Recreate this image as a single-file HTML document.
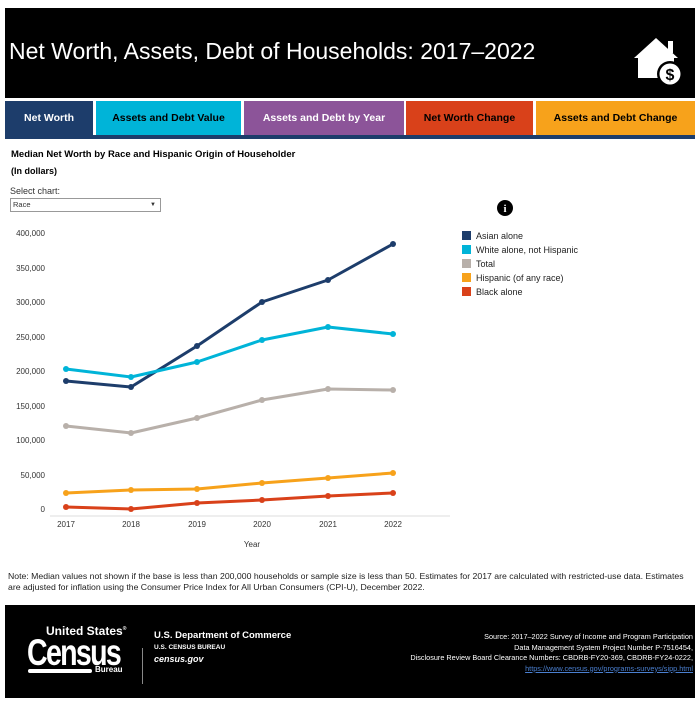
<!DOCTYPE html>
<html><head><meta charset="utf-8"><style>
body{margin:0;width:700px;height:701px;background:#fff;font-family:"Liberation Sans",sans-serif;position:relative;overflow:hidden}
.a{position:absolute}
.hdr{left:5px;top:8px;width:690px;height:90px;background:#000}
.tab{top:101px;height:34px;font-weight:bold;font-size:10.5px;display:flex;align-items:center;justify-content:center;color:#000}
</style></head><body>
<div class="a hdr"></div>
<div class="a" style="left:9px;top:38px;color:#fff;font-size:23px">Net Worth, Assets, Debt of Households: 2017–2022</div>
<svg class="a" style="left:630px;top:34px" width="56" height="54" viewBox="0 0 56 54">
<path d="M4 24 L26 4 L48 24 L44 24 L44 44 L8 44 L8 24 Z" fill="#fff"/><rect x="38" y="7" width="5" height="12" fill="#fff"/>
<circle cx="40" cy="40" r="13" fill="#000"/><circle cx="40" cy="40" r="10.5" fill="#fff"/>
<text x="40" y="46" font-size="16" font-weight="bold" text-anchor="middle" fill="#000" font-family="Liberation Sans">$</text></svg>
<div class="a tab" style="left:5px;width:88px;background:#1d3d6b;color:#fff">Net Worth</div>
<div class="a tab" style="left:96px;width:145px;background:#00b4d8">Assets and Debt Value</div>
<div class="a tab" style="left:244px;width:160px;background:#8c5499;color:#fff">Assets and Debt by Year</div>
<div class="a tab" style="left:406px;width:127px;background:#d9411a">Net Worth Change</div>
<div class="a tab" style="left:536px;width:159px;background:#f7a21b">Assets and Debt Change</div>
<div class="a" style="left:5px;top:135px;width:690px;height:4px;background:#1d3d6b"></div>
<div class="a" style="left:11px;top:149px;font-size:9.5px;font-weight:bold">Median Net Worth by Race and Hispanic Origin of Householder</div>
<div class="a" style="left:11px;top:166px;font-size:9px;font-weight:bold">(In dollars)</div>
<div class="a" style="left:10px;top:186px;font-size:9px;color:#333">Select chart:</div>
<div class="a" style="left:10px;top:198px;width:149px;height:12px;border:1px solid #999;font-size:7.5px;line-height:12px;color:#333"><span style="margin-left:2px">Race</span><span style="position:absolute;right:4px;font-size:6px">▼</span></div>
<svg class="a" style="left:0;top:0" width="700" height="701">
<circle cx="505" cy="208" r="8" fill="#000"/><text x="505" y="212" font-size="11" font-weight="bold" fill="#fff" text-anchor="middle" font-family="Liberation Serif">i</text>
<g font-size="8" fill="#333" font-family="Liberation Sans" text-anchor="end">
<text x="45" y="236">400,000</text><text x="45" y="271">350,000</text><text x="45" y="305">300,000</text><text x="45" y="340">250,000</text><text x="45" y="374">200,000</text><text x="45" y="409">150,000</text><text x="45" y="443">100,000</text><text x="45" y="478">50,000</text><text x="45" y="512">0</text></g>
<line x1="50" y1="516" x2="450" y2="516" stroke="#ddd"/>
<g font-size="8" fill="#333" font-family="Liberation Sans" text-anchor="middle">
<text x="66" y="527">2017</text><text x="131" y="527">2018</text><text x="197" y="527">2019</text><text x="262" y="527">2020</text><text x="328" y="527">2021</text><text x="393" y="527">2022</text><text x="252" y="547">Year</text></g>
<g fill="none" stroke-width="3" stroke-linejoin="round">
<polyline stroke="#1d3d6b" points="66,381 131,387 197,346 262,302 328,280 393,244"/>
<polyline stroke="#00b4d8" points="66,369 131,377 197,362 262,340 328,327 393,334"/>
<polyline stroke="#b8b0aa" points="66,426 131,433 197,418 262,400 328,389 393,390"/>
<polyline stroke="#f7a21b" points="66,493 131,490 197,489 262,483 328,478 393,473"/>
<polyline stroke="#d9411a" points="66,507 131,509 197,503 262,500 328,496 393,493"/>
</g>
<g>
<g fill="#1d3d6b"><circle cx="66" cy="381" r="3"/><circle cx="131" cy="387" r="3"/><circle cx="197" cy="346" r="3"/><circle cx="262" cy="302" r="3"/><circle cx="328" cy="280" r="3"/><circle cx="393" cy="244" r="3"/></g>
<g fill="#00b4d8"><circle cx="66" cy="369" r="3"/><circle cx="131" cy="377" r="3"/><circle cx="197" cy="362" r="3"/><circle cx="262" cy="340" r="3"/><circle cx="328" cy="327" r="3"/><circle cx="393" cy="334" r="3"/></g>
<g fill="#b8b0aa"><circle cx="66" cy="426" r="3"/><circle cx="131" cy="433" r="3"/><circle cx="197" cy="418" r="3"/><circle cx="262" cy="400" r="3"/><circle cx="328" cy="389" r="3"/><circle cx="393" cy="390" r="3"/></g>
<g fill="#f7a21b"><circle cx="66" cy="493" r="3"/><circle cx="131" cy="490" r="3"/><circle cx="197" cy="489" r="3"/><circle cx="262" cy="483" r="3"/><circle cx="328" cy="478" r="3"/><circle cx="393" cy="473" r="3"/></g>
<g fill="#d9411a"><circle cx="66" cy="507" r="3"/><circle cx="131" cy="509" r="3"/><circle cx="197" cy="503" r="3"/><circle cx="262" cy="500" r="3"/><circle cx="328" cy="496" r="3"/><circle cx="393" cy="493" r="3"/></g>
</g>
<g font-size="9" fill="#222" font-family="Liberation Sans">
<rect x="462" y="231" width="9" height="9" fill="#1d3d6b"/><text x="476" y="239">Asian alone</text>
<rect x="462" y="245" width="9" height="9" fill="#00b4d8"/><text x="476" y="253">White alone, not Hispanic</text>
<rect x="462" y="259" width="9" height="9" fill="#b8b0aa"/><text x="476" y="267">Total</text>
<rect x="462" y="273" width="9" height="9" fill="#f7a21b"/><text x="476" y="281">Hispanic (of any race)</text>
<rect x="462" y="287" width="9" height="9" fill="#d9411a"/><text x="476" y="295">Black alone</text>
</g>
</svg>
<div class="a" style="left:8px;top:571px;font-size:8.7px;line-height:11px;color:#222;white-space:nowrap">Note: Median values not shown if the base is less than 200,000 households or sample size is less than 50. Estimates for 2017 are calculated with restricted-use data. Estimates<br>are adjusted for inflation using the Consumer Price Index for All Urban Consumers (CPI-U), December 2022.</div>
<div class="a" style="left:5px;top:605px;width:690px;height:93px;background:#000"></div>
<div class="a" style="left:46px;top:624px;color:#fff;font-size:12px;font-weight:bold">United States<sup style="font-size:5px">®</sup></div>
<div class="a" style="left:27px;top:634px;color:#fff;font-size:34px;line-height:34px;font-weight:bold;letter-spacing:-2px;transform:scale(0.84,1.1);transform-origin:left top">Census</div>
<div class="a" style="left:28px;top:669px;width:64px;height:4px;background:#fff;border-radius:2px"></div>
<div class="a" style="left:95px;top:665px;color:#fff;font-size:8px;font-weight:bold">Bureau</div>
<div class="a" style="left:142px;top:648px;width:1px;height:36px;background:#888"></div>
<div class="a" style="left:154px;top:630px;color:#fff;font-size:9.5px;font-weight:bold">U.S. Department of Commerce</div>
<div class="a" style="left:154px;top:644px;color:#fff;font-size:6.5px;font-weight:bold">U.S. CENSUS BUREAU</div>
<div class="a" style="left:154px;top:654px;color:#fff;font-size:9px;font-style:italic;font-weight:bold">census.gov</div>
<div class="a" style="right:7px;top:632px;color:#fff;font-size:7.3px;line-height:10.5px;text-align:right">Source: 2017–2022 Survey of Income and Program Participation<br>Data Management System Project Number P-7516454,<br>Disclosure Review Board Clearance Numbers: CBDRB-FY20-369, CBDRB-FY24-0222,<br><span style="color:#4a7fd0;text-decoration:underline">https://www.census.gov/programs-surveys/sipp.html</span></div>
</body></html>
